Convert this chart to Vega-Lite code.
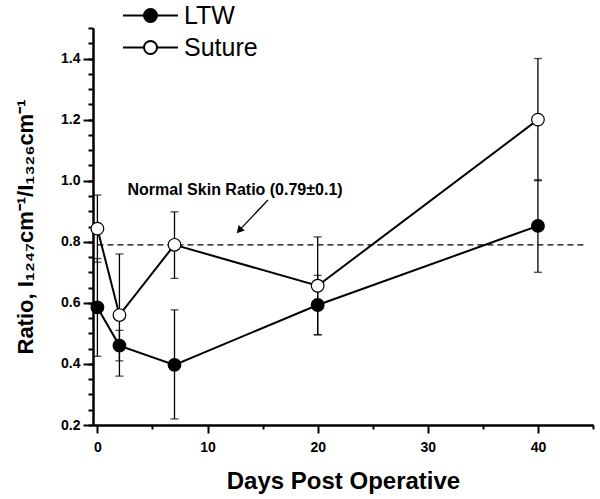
{
  "$schema": "https://vega.github.io/schema/vega-lite/v6.json",
  "width": 500,
  "height": 397,
  "autosize": {"type": "none"},
  "padding": {"left": 93, "top": 28, "right": 7, "bottom": 74},
  "background": "white",
  "config": {
    "view": {"stroke": null},
    "font": "Liberation Sans",
    "axis": {"grid": false, "domainColor": "black", "domainWidth": 2, "tickColor": "black", "tickWidth": 2, "labelFont": "Liberation Sans", "labelFontWeight": "bold", "labelFontSize": 14, "labelColor": "black", "titleFont": "Liberation Sans", "titleFontWeight": "bold", "titleColor": "black"}
  },
  "datasets": {
    "obs": [
      {"series": "LTW", "day": 0, "ratio": 0.585, "lo": 0.425, "hi": 0.745},
      {"series": "LTW", "day": 2, "ratio": 0.46, "lo": 0.41, "hi": 0.51},
      {"series": "LTW", "day": 7, "ratio": 0.397, "lo": 0.22, "hi": 0.577},
      {"series": "LTW", "day": 20, "ratio": 0.593, "lo": 0.495, "hi": 0.69},
      {"series": "LTW", "day": 40, "ratio": 0.852, "lo": 0.70, "hi": 1.003},
      {"series": "Suture", "day": 0, "ratio": 0.843, "lo": 0.733, "hi": 0.953},
      {"series": "Suture", "day": 2, "ratio": 0.56, "lo": 0.36, "hi": 0.76},
      {"series": "Suture", "day": 7, "ratio": 0.79, "lo": 0.68, "hi": 0.898},
      {"series": "Suture", "day": 20, "ratio": 0.656, "lo": 0.496, "hi": 0.816},
      {"series": "Suture", "day": 40, "ratio": 1.2, "lo": 1.0, "hi": 1.4}
    ],
    "normal": [{"x": 0, "x2": 44.3, "y": 0.79}],
    "note": [{"x": 12.5, "y": 0.97, "label": "Normal Skin Ratio (0.79±0.1)"}],
    "arrow": [{"x": 15.48, "y": 0.937}, {"x": 12.9, "y": 0.838}],
    "head": [{"x": 12.95, "y": 0.84}]
  },
  "resolve": {"axis": {"x": "independent", "y": "independent"}},
  "layer": [
    {
      "data": {"name": "normal"},
      "mark": {"type": "rule", "strokeDash": [6, 4], "strokeWidth": 1.2, "color": "black"},
      "encoding": {
        "x": {"field": "x", "type": "quantitative", "scale": {"domain": [-0.4, 45], "nice": false, "zero": false},
              "axis": {"orient": "bottom", "values": [5, 15, 25, 35, 45], "tickSize": 4, "labels": false, "title": null}},
        "x2": {"field": "x2"},
        "y": {"field": "y", "type": "quantitative", "scale": {"domain": [0.2, 1.5], "nice": false, "zero": false},
              "axis": {"orient": "left", "values": [0.2,0.25,0.3,0.35,0.4,0.45,0.5,0.55,0.6,0.65,0.7,0.75,0.8,0.85,0.9,0.95,1.0,1.05,1.1,1.15,1.2,1.25,1.3,1.35,1.4,1.45,1.5], "tickSize": 5, "labels": false, "title": null}}
      }
    },
    {
      "data": {"name": "obs"},
      "mark": {"type": "rule", "strokeWidth": 1.3, "color": "black"},
      "encoding": {
        "x": {"field": "day", "type": "quantitative", "axis": null},
        "y": {"field": "lo", "type": "quantitative", "axis": null},
        "y2": {"field": "hi"}
      }
    },
    {
      "data": {"name": "obs"},
      "mark": {"type": "tick", "orient": "horizontal", "size": 8, "thickness": 1.3, "color": "black"},
      "encoding": {
        "x": {"field": "day", "type": "quantitative", "axis": null},
        "y": {"field": "lo", "type": "quantitative", "axis": null}
      }
    },
    {
      "data": {"name": "obs"},
      "mark": {"type": "tick", "orient": "horizontal", "size": 8, "thickness": 1.3, "color": "black"},
      "encoding": {
        "x": {"field": "day", "type": "quantitative", "axis": null},
        "y": {"field": "hi", "type": "quantitative", "axis": null}
      }
    },
    {
      "data": {"name": "obs"},
      "mark": {"type": "line", "color": "black", "strokeWidth": 2},
      "encoding": {
        "x": {"field": "day", "type": "quantitative", "axis": null},
        "y": {"field": "ratio", "type": "quantitative", "axis": null},
        "detail": {"field": "series"},
        "order": {"field": "day"}
      }
    },
    {
      "data": {"name": "arrow"},
      "mark": {"type": "line", "color": "black", "strokeWidth": 1.3},
      "encoding": {
        "x": {"field": "x", "type": "quantitative", "axis": null},
        "y": {"field": "y", "type": "quantitative", "axis": null}
      }
    },
    {
      "data": {"name": "head"},
      "mark": {"type": "point", "shape": "triangle", "filled": true, "color": "black", "size": 70, "angle": 222, "opacity": 1},
      "encoding": {
        "x": {"field": "x", "type": "quantitative", "axis": null},
        "y": {"field": "y", "type": "quantitative", "axis": null}
      }
    },
    {
      "data": {"name": "note"},
      "mark": {"type": "text", "font": "Liberation Sans", "fontWeight": "bold", "fontSize": 16, "color": "black", "align": "center", "baseline": "middle"},
      "encoding": {
        "x": {"field": "x", "type": "quantitative", "axis": null},
        "y": {"field": "y", "type": "quantitative", "axis": null},
        "text": {"field": "label"}
      }
    },
    {
      "data": {"name": "obs"},
      "mark": {"type": "point", "shape": "circle", "filled": true, "size": 160, "stroke": "black", "strokeWidth": 1.2, "opacity": 1},
      "encoding": {
        "x": {"field": "day", "type": "quantitative",
              "axis": {"orient": "bottom", "values": [0, 10, 20, 30, 40], "tickSize": 8, "labelPadding": 7, "title": "Days Post Operative", "titleFontSize": 24, "titlePadding": 15}},
        "y": {"field": "ratio", "type": "quantitative",
              "axis": {"orient": "left", "values": [0.2, 0.4, 0.6, 0.8, 1.0, 1.2, 1.4], "format": ".1f", "tickSize": 10, "labelPadding": 3, "title": "Ratio, I₁₂₄₇cm⁻¹/I₁₃₂₆cm⁻¹", "titleFontSize": 22, "titlePadding": 23}},
        "fill": {"field": "series", "type": "nominal", "scale": {"domain": ["LTW", "Suture"], "range": ["black", "white"]},
                 "legend": {"title": null, "orient": "none", "legendX": 45, "legendY": -25, "padding": 0,
                            "symbolType": "M-2.75,0H-0.69M0.69,0H2.75M0.65,0A0.65,0.65,0,1,1,-0.65,0A0.65,0.65,0,1,1,0.65,0Z",
                            "symbolSize": 400, "symbolStrokeColor": "black", "symbolStrokeWidth": 2, "symbolOpacity": 1,
                            "labelFont": "Liberation Sans", "labelFontSize": 25, "labelColor": "black", "labelOffset": 21, "rowPadding": 6}}
      }
    }
  ]
}
